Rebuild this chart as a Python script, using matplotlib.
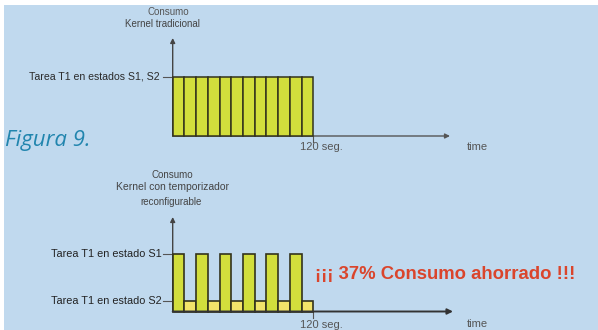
import matplotlib
matplotlib.use("Agg")
import matplotlib.pyplot as plt

# ---- data ----
trad_starts = [0, 10, 20, 30, 40, 50, 60, 70, 80, 90, 100, 110]
trad_levels = [1, 1, 1, 1, 1, 1, 1, 1, 1, 1, 1, 1]

timer_starts = [0, 10, 20, 30, 40, 50, 60, 70, 80, 90, 100, 110]
timer_levels = [1, 0.19, 1, 0.19, 1, 0.19, 1, 0.19, 1, 0.19, 1, 0.19]

top_title = ["Consumo", "Kernel tradicional"]
bottom_title = ["Consumo", "Kernel con temporizador", "reconfigurable"]
top_label = "Tarea T1 en estados S1, S2"
s1_label = "Tarea T1 en estado S1"
s2_label = "Tarea T1 en estado S2"
end_label = "120 seg."
time_label = "time"
saving_text = "¡¡¡ 37% Consumo ahorrado !!!"
caption = "Figura 9."

# ---- style ----
BG = "#c0d9ee"
GREEN = "#d2de3c"
YELLOW = "#f2e46a"
EDGE = "#33331c"
TXT = "#2a2a2a"
W, H = 598, 330

fig = plt.figure(figsize=(W / 100, H / 100), dpi=100)
fig.patch.set_facecolor("white")
bg = fig.add_axes([4 / W, 0, 1 - 4 / W, 1 - 5 / H], zorder=-5)
bg.set_facecolor(BG)
bg.set_xticks([]); bg.set_yticks([])
for s in bg.spines.values():
    s.set_visible(False)

sx = 140.6 / 120.0  # px per second
x0 = 172.7


def make_ax(base_px, unit_px):
    ax = fig.add_axes([0, 0, 1, 1])
    ax.set_facecolor("none")
    ax.set_xlim(-x0 / sx, (W - x0) / sx)
    ax.set_ylim((base_px - H) / unit_px, base_px / unit_px)
    ax.axis("off")
    return ax


def py(px, base_px, unit_px):
    return (base_px - px) / unit_px


font = "Liberation Sans"

# ---------- top chart ----------
tb, tu = 136.0, 59.3
ax1 = make_ax(tb, tu)
ax1.bar(trad_starts, trad_levels, width=10, align="edge", color=GREEN,
        edgecolor=EDGE, linewidth=1.1, zorder=3)
ax1.annotate("", xy=(0, py(38, tb, tu)), xytext=(0, 0),
             arrowprops=dict(arrowstyle="-|>", color="#444444", lw=1.0,
                             mutation_scale=7, shrinkA=0, shrinkB=0), zorder=2)
ax1.annotate("", xy=((450 - x0) / sx, 0), xytext=(0, 0),
             arrowprops=dict(arrowstyle="-|>", color="#555555", lw=1.0,
                             mutation_scale=7, shrinkA=0, shrinkB=0), zorder=2)
ax1.plot([-8.3, 0], [1, 1], color="#555555", lw=0.8, zorder=2)
ax1.plot([120, 120], [0, -0.1], color="#555555", lw=0.8, zorder=2)
ax1.text(-4, py(12, tb, tu), top_title[0], ha="center", va="center",
         fontsize=7, color="#555555", family=font)
ax1.text(-9, py(24, tb, tu), top_title[1], ha="center", va="center",
         fontsize=7, color="#444444", family=font)
ax1.text((160 - x0) / sx, 1, top_label, ha="right", va="center",
         fontsize=7.6, color=TXT, family=font)
ax1.text((300 - x0) / sx, py(147, tb, tu), end_label, ha="left", va="center",
         fontsize=8, color="#555555", family=font)
ax1.text((477 - x0) / sx, py(147, tb, tu), time_label, ha="center", va="center",
         fontsize=8, color="#555555", family=font)

# ---------- bottom chart ----------
bb, bu = 311.5, 57.5
ax2 = make_ax(bb, bu)
ax2.bar(timer_starts, timer_levels, width=10, align="edge",
        color=[GREEN if v >= 0.5 else YELLOW for v in timer_levels],
        edgecolor=EDGE, linewidth=1.2, zorder=3)
ax2.annotate("", xy=(0, py(217, bb, bu)), xytext=(0, 0),
             arrowprops=dict(arrowstyle="-|>", color="#444444", lw=1.0,
                             mutation_scale=7, shrinkA=0, shrinkB=0), zorder=2)
ax2.annotate("", xy=((453 - x0) / sx, 0), xytext=(0, 0),
             arrowprops=dict(arrowstyle="-|>", color="#333333", lw=1.4,
                             mutation_scale=8, shrinkA=0, shrinkB=0), zorder=4)
ax2.plot([-8.3, 0], [1, 1], color="#555555", lw=0.8, zorder=2)
ax2.plot([-8.3, 0], [0.19, 0.19], color="#555555", lw=0.8, zorder=2)
ax2.plot([120, 120], [0, -0.12], color="#555555", lw=0.8, zorder=2)
ax2.text(-0.5, py(175, bb, bu), bottom_title[0], ha="center", va="center",
         fontsize=7, color="#444444", family=font)
ax2.text(-0.5, py(187, bb, bu), bottom_title[1], ha="center", va="center",
         fontsize=7.5, color="#444444", family=font)
ax2.text(-1.5, py(201.5, bb, bu), bottom_title[2], ha="center", va="center",
         fontsize=7, color="#444444", family=font)
ax2.text((162 - x0) / sx, 1, s1_label, ha="right", va="center",
         fontsize=7.8, color="#222222", family=font)
ax2.text((162 - x0) / sx, 0.19, s2_label, ha="right", va="center",
         fontsize=7.8, color="#222222", family=font)
ax2.text((300 - x0) / sx, py(325, bb, bu), end_label, ha="left", va="center",
         fontsize=8, color="#555555", family=font)
ax2.text((477 - x0) / sx, py(324, bb, bu), time_label, ha="center", va="center",
         fontsize=8, color="#555555", family=font)
ax2.text((445 - x0) / sx, py(275, bb, bu), saving_text, ha="center", va="center",
         fontsize=13.3, fontweight="bold", color="#da452c", family=font)

# ---------- caption ----------
fig.text(5 / W, 1 - 146 / H, caption, ha="left", va="baseline",
         fontsize=16, style="italic", color="#2185ae", family="Open Sans")

fig.savefig("out.png", dpi=100, facecolor=fig.get_facecolor())
